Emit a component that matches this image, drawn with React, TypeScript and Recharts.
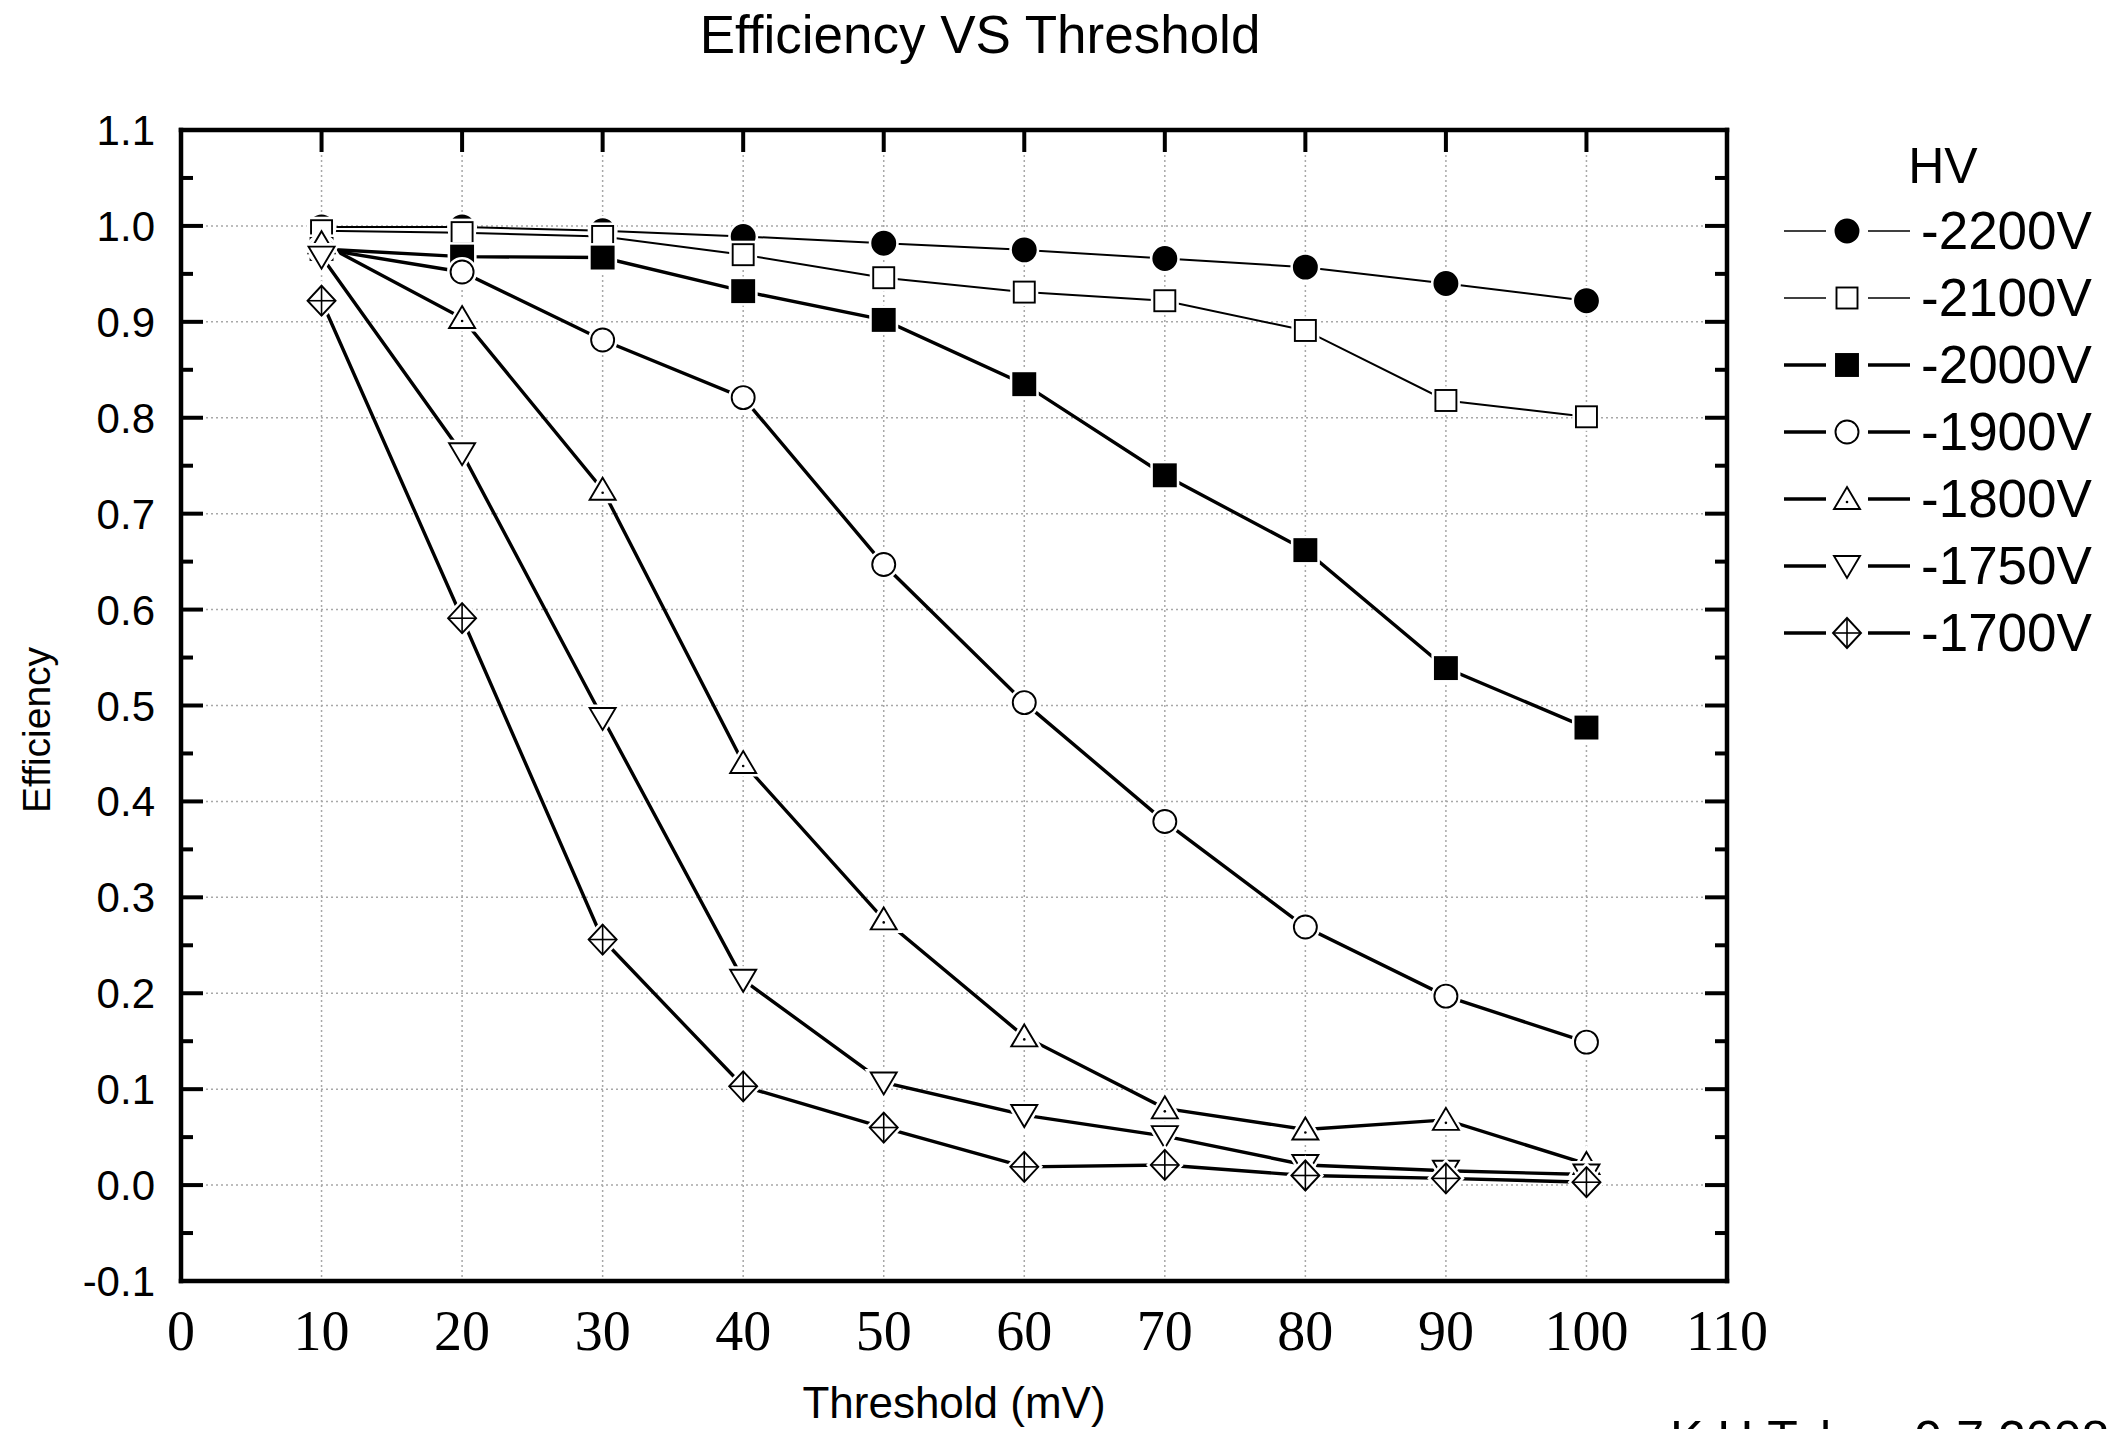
import React from "react";
import { LineChart, Line, XAxis, YAxis, CartesianGrid } from "recharts";

// threshold (mV) and measured efficiency per HV setting
const thresholds = [10, 20, 30, 40, 50, 60, 70, 80, 90, 100];
const eff2200 = [0.999, 0.999, 0.995, 0.989, 0.982, 0.975, 0.966, 0.957, 0.94, 0.922];
const eff2100 = [0.995, 0.993, 0.989, 0.97, 0.946, 0.931, 0.922, 0.891, 0.818, 0.801];
const eff2000 = [0.976, 0.968, 0.967, 0.932, 0.902, 0.835, 0.74, 0.662, 0.539, 0.477];
const eff1900 = [0.976, 0.952, 0.881, 0.821, 0.647, 0.503, 0.379, 0.269, 0.197, 0.149];
const eff1800 = [0.982, 0.904, 0.725, 0.44, 0.277, 0.155, 0.08, 0.058, 0.068, 0.022];
const eff1750 = [0.968, 0.763, 0.487, 0.214, 0.107, 0.073, 0.051, 0.021, 0.015, 0.011];
const eff1700 = [0.922, 0.591, 0.256, 0.103, 0.06, 0.019, 0.021, 0.01, 0.007, 0.003];

const xTicks = [0, 10, 20, 30, 40, 50, 60, 70, 80, 90, 100, 110];
const xGrid = [10, 20, 30, 40, 50, 60, 70, 80, 90, 100];
const yMajor = [-0.1, 0, 0.1, 0.2, 0.3, 0.4, 0.5, 0.6, 0.7, 0.8, 0.9, 1.0, 1.1];
const yLabels = ["-0.1", "0.0", "0.1", "0.2", "0.3", "0.4", "0.5", "0.6", "0.7", "0.8", "0.9", "1.0", "1.1"];
const yMinor = [-0.05, 0.05, 0.15, 0.25, 0.35, 0.45, 0.55, 0.65, 0.75, 0.85, 0.95, 1.05];
const yGrid = [0, 0.1, 0.2, 0.3, 0.4, 0.5, 0.6, 0.7, 0.8, 0.9, 1.0];

const series = [
  { key: "v2200", name: "-2200V", values: eff2200, marker: "circleFilled", width: 2 },
  { key: "v2100", name: "-2100V", values: eff2100, marker: "squareOpen", width: 2 },
  { key: "v2000", name: "-2000V", values: eff2000, marker: "squareFilled", width: 3.4 },
  { key: "v1900", name: "-1900V", values: eff1900, marker: "circleOpen", width: 3.4 },
  { key: "v1800", name: "-1800V", values: eff1800, marker: "triUp", width: 3.4 },
  { key: "v1750", name: "-1750V", values: eff1750, marker: "triDown", width: 3.4 },
  { key: "v1700", name: "-1700V", values: eff1700, marker: "diamondCross", width: 3.4 },
];

const data = thresholds.map((t, i) => {
  const row: Record<string, number> = { t };
  series.forEach((s) => {
    row[s.key] = s.values[i];
  });
  return row;
});

const SANS = "'Liberation Sans', Arial, sans-serif";
const SERIF = "'Liberation Serif', 'Times New Roman', serif";

function shape(kind: string, cx: number, cy: number, halo: boolean) {
  const stroke = halo ? "#fff" : "#000";
  const sw = halo ? 7 : 1.9;
  const solid = halo ? "#fff" : "#000";
  switch (kind) {
    case "circleFilled":
      return <circle cx={cx} cy={cy} r={11.5} fill={solid} stroke={stroke} strokeWidth={sw} />;
    case "circleOpen":
      return <circle cx={cx} cy={cy} r={11.5} fill="#fff" stroke={stroke} strokeWidth={sw} />;
    case "squareFilled":
      return <rect x={cx - 11} y={cy - 11} width={22} height={22} fill={solid} stroke={stroke} strokeWidth={sw} />;
    case "squareOpen":
      return <rect x={cx - 10.5} y={cy - 10.5} width={21} height={21} fill="#fff" stroke={stroke} strokeWidth={sw} />;
    case "triUp":
      return (
        <g>
          <polygon
            points={`${cx},${cy - 12} ${cx + 13},${cy + 10} ${cx - 13},${cy + 10}`}
            fill="#fff"
            stroke={stroke}
            strokeWidth={sw}
          />
          {!halo && <circle cx={cx} cy={cy + 3} r={1.3} fill="#000" />}
        </g>
      );
    case "triDown":
      return (
        <polygon
          points={`${cx - 13},${cy - 10} ${cx + 13},${cy - 10} ${cx},${cy + 12}`}
          fill="#fff"
          stroke={stroke}
          strokeWidth={sw}
        />
      );
    default:
      return (
        <g>
          <polygon
            points={`${cx},${cy - 15} ${cx + 14},${cy} ${cx},${cy + 15} ${cx - 14},${cy}`}
            fill="#fff"
            stroke={stroke}
            strokeWidth={sw}
          />
          {!halo && (
            <g stroke="#000" strokeWidth={1.6}>
              <line x1={cx} y1={cy - 15} x2={cx} y2={cy + 15} />
              <line x1={cx - 14} y1={cy} x2={cx + 14} y2={cy} />
            </g>
          )}
        </g>
      );
  }
}

function Marker({ kind, cx, cy }: { kind: string; cx: number; cy: number }) {
  if (cx == null || cy == null) return null;
  return (
    <g>
      {shape(kind, cx, cy, true)}
      {shape(kind, cx, cy, false)}
    </g>
  );
}

const isMajor = (v: number) => yMajor.findIndex((m) => Math.abs(m - v) < 1e-6);

const LeftTick = (props: any) => {
  const { x, y, payload } = props;
  const idx = isMajor(payload.value);
  return (
    <g>
      <line x1={x} x2={x + (idx >= 0 ? 22 : 12)} y1={y} y2={y} stroke="#000" strokeWidth={4} />
      {idx >= 0 && (
        <text x={x - 26} y={y + 15} textAnchor="end" fontSize={42} fontFamily={SANS} fill="#000">
          {yLabels[idx]}
        </text>
      )}
    </g>
  );
};

const RightTick = (props: any) => {
  const { x, y, payload } = props;
  const idx = isMajor(payload.value);
  return <line x1={x} x2={x - (idx >= 0 ? 22 : 12)} y1={y} y2={y} stroke="#000" strokeWidth={4} />;
};

const TopTick = (props: any) => {
  const { x, y } = props;
  return <line x1={x} x2={x} y1={y} y2={y + 22} stroke="#000" strokeWidth={4} />;
};

const BottomTick = (props: any) => {
  const { x, y, payload } = props;
  return (
    <text x={x} y={y + 69} textAnchor="middle" fontSize={56} fontFamily={SERIF} fill="#000">
      {payload.value}
    </text>
  );
};

const legendRows = [231, 298, 365, 432, 499, 566, 633];

export default function App() {
  const axisLine = { stroke: "#000", strokeWidth: 4.5, strokeLinecap: "square" as const };
  const yTicksAll = [...yMajor, ...yMinor].sort((a, b) => a - b);
  return (
    <div style={{ position: "absolute", left: 0, top: 0, width: 2108, height: 1429, background: "#fff" }}>
      <LineChart width={2108} height={1429} data={data} margin={{ top: 0, right: 0, bottom: 0, left: 0 }}>
        <CartesianGrid
          xAxisId="b"
          yAxisId="l"
          horizontalValues={yGrid}
          verticalValues={xGrid}
          stroke="#a8a8a8"
          strokeWidth={1.5}
          strokeDasharray="2 3"
        />
        <XAxis
          xAxisId="b"
          dataKey="t"
          type="number"
          domain={[0, 110]}
          ticks={xTicks}
          interval={0}
          height={148}
          tickSize={0}
          tickMargin={0}
          tick={BottomTick}
          axisLine={axisLine}
        />
        <XAxis
          xAxisId="t"
          orientation="top"
          dataKey="t"
          type="number"
          domain={[0, 110]}
          ticks={xTicks}
          interval={0}
          height={130}
          tickSize={0}
          tickMargin={0}
          tick={TopTick}
          axisLine={axisLine}
        />
        <YAxis
          yAxisId="l"
          type="number"
          domain={[-0.1, 1.1]}
          ticks={yTicksAll}
          interval={0}
          width={181}
          tickSize={0}
          tickMargin={0}
          tick={LeftTick}
          axisLine={axisLine}
          allowDataOverflow
        />
        <YAxis
          yAxisId="r"
          orientation="right"
          type="number"
          domain={[-0.1, 1.1]}
          ticks={yTicksAll}
          interval={0}
          width={381}
          tickSize={0}
          tickMargin={0}
          tick={RightTick}
          axisLine={axisLine}
          allowDataOverflow
        />
        {series.map((s) => (
          <Line
            key={s.key}
            xAxisId="b"
            yAxisId="l"
            type="linear"
            dataKey={s.key}
            name={s.name}
            stroke="#000"
            strokeWidth={s.width}
            isAnimationActive={false}
            dot={(p: any) => <Marker key={`${s.key}-${p.index}`} kind={s.marker} cx={p.cx} cy={p.cy} />}
            activeDot={false}
          />
        ))}
      </LineChart>

      <svg
        width={2108}
        height={1429}
        style={{ position: "absolute", left: 0, top: 0, pointerEvents: "none" }}
      >
        <text x={980} y={53} textAnchor="middle" fontSize={53} fontFamily={SANS} fill="#000">
          Efficiency VS Threshold
        </text>
        <text x={954} y={1418} textAnchor="middle" fontSize={44} fontFamily={SANS} fill="#000">
          Threshold (mV)
        </text>
        <text
          x={0}
          y={0}
          transform="translate(50 730) rotate(-90)"
          textAnchor="middle"
          fontSize={39}
          fontFamily={SANS}
          fill="#000"
        >
          Efficiency
        </text>
        <text x={1670} y={1456} fontSize={50} fontFamily={SANS} fill="#000">
          K.H.Takao 9.7.2008
        </text>

        <text x={1943} y={183} textAnchor="middle" fontSize={50} fontFamily={SANS} fill="#000">
          HV
        </text>
        {series.map((s, i) => {
          const y = legendRows[i];
          const lw = s.width < 3 ? 1.6 : 3.4;
          return (
            <g key={s.key}>
              <line x1={1784} x2={1826} y1={y} y2={y} stroke="#000" strokeWidth={lw} />
              <line x1={1868} x2={1910} y1={y} y2={y} stroke="#000" strokeWidth={lw} />
              <Marker kind={s.marker} cx={1847} cy={y} />
              <text x={1921} y={y + 18} fontSize={53} fontFamily={SANS} fill="#000">
                {s.name}
              </text>
            </g>
          );
        })}
      </svg>
    </div>
  );
}
